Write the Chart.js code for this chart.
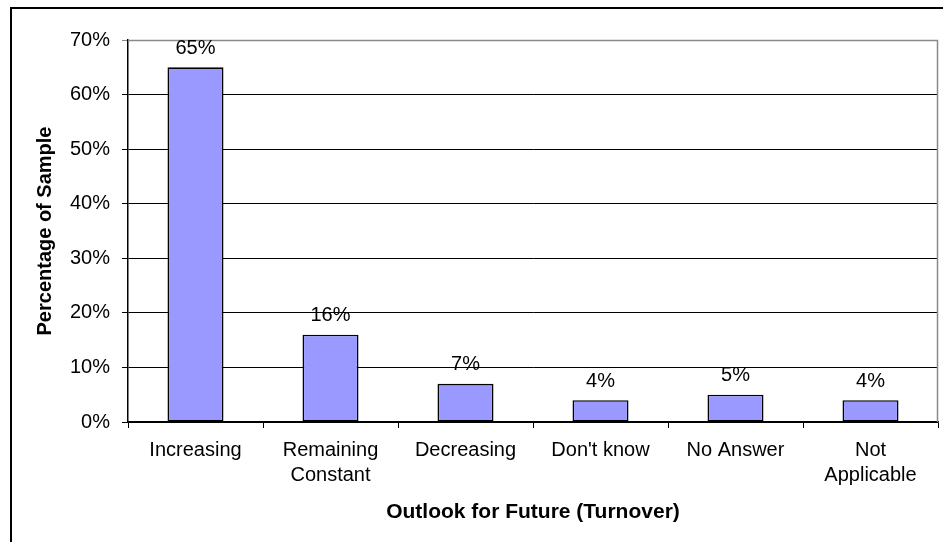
<!DOCTYPE html>
<html>
<head>
<meta charset="utf-8">
<script src="https://cdn.jsdelivr.net/npm/chart.js@4/dist/chart.umd.min.js"></script>
<style>
  html, body { margin: 0; padding: 0; background: #fff; }
  #wrap { position: relative; width: 943px; height: 542px; overflow: hidden; }
  #frame { position: absolute; left: 10px; top: 7px; width: 2000px; height: 2000px;
           border-left: 2px solid #000; border-top: 2px solid #000; }
  canvas { position: absolute; left: 0; top: 0; }
</style>
</head>
<body>
<div id="wrap">
  <div id="frame"></div>
  <canvas id="c" width="943" height="542"></canvas>
</div>
<script>
// Survey outlook for future turnover, share of respondents per answer
const categories = ['Increasing', ['Remaining', 'Constant'], 'Decreasing', "Don't know", 'No Answer', ['Not', 'Applicable']];
const shares = [65, 16, 7, 4, 5, 4];
const yTicks = [0, 10, 20, 30, 40, 50, 60, 70];

const FONT = '"Liberation Sans", Arial, Helvetica, sans-serif';

// Writes each bar's percentage just above it
const barValueLabels = {
  id: 'barValueLabels',
  afterDatasetsDraw(chart) {
    const ctx = chart.ctx;
    const meta = chart.getDatasetMeta(0);
    ctx.save();
    ctx.font = '20px ' + FONT;
    ctx.fillStyle = '#000';
    ctx.textAlign = 'center';
    ctx.textBaseline = 'middle';
    meta.data.forEach((bar, i) => {
      const v = chart.data.datasets[0].data[i];
      ctx.fillText(v + '%', bar.x, bar.y - 19);
    });
    ctx.restore();
  }
};

// Grey outline on the top and right of the plot area
const plotBorder = {
  id: 'plotBorder',
  beforeDatasetsDraw(chart) {
    const { ctx, chartArea: a } = chart;
    ctx.save();
    ctx.strokeStyle = '#8a8a8a';
    ctx.lineWidth = 1.5;
    ctx.beginPath();
    ctx.moveTo(a.left, a.top + 0.5);
    ctx.lineTo(a.right - 0.5, a.top + 0.5);
    ctx.lineTo(a.right - 0.5, a.bottom);
    ctx.stroke();
    ctx.restore();
  }
};

new Chart(document.getElementById('c'), {
  type: 'bar',
  data: {
    labels: categories,
    datasets: [{
      data: shares,
      backgroundColor: '#9999ff',
      borderColor: '#000',
      borderWidth: 1.6,
      borderSkipped: false,
      categoryPercentage: 1,
      barPercentage: 0.415
    }]
  },
  options: {
    responsive: false,
    animation: false,
    events: [],
    layout: { padding: { top: 40, right: 5, bottom: 0, left: 0 } },
    plugins: {
      legend: { display: false },
      tooltip: { enabled: false },
      title: { display: false }
    },
    scales: {
      x: {
        grid: {
          offset: true,
          drawOnChartArea: false,
          drawTicks: true,
          tickLength: 6,
          color: '#000',
          lineWidth: 1
        },
        border: { color: '#000', width: 1.5 },
        ticks: {
          color: '#000',
          font: { family: FONT, size: 20, lineHeight: 1.25 },
          padding: 10,
          maxRotation: 0,
          minRotation: 0,
          autoSkip: false
        },
        title: {
          display: true,
          text: 'Outlook for Future (Turnover)',
          color: '#000',
          font: { family: FONT, size: 21, weight: 'bold' },
          padding: { top: 0, bottom: 17 }
        },
        afterFit(scale) { scale.height = 120; }
      },
      y: {
        min: 0,
        max: 70,
        afterBuildTicks(scale) { scale.ticks = yTicks.map(v => ({ value: v })); },
        grid: {
          color: ctx => (ctx.tick && ctx.tick.value === 70 ? '#8a8a8a' : '#000'),
          lineWidth: 1,
          tickLength: 6
        },
        border: { color: '#000', width: 1.5 },
        ticks: {
          color: '#000',
          font: { family: FONT, size: 20 },
          padding: 12,
          callback: v => v + '%'
        },
        title: {
          display: true,
          text: 'Percentage of Sample',
          color: '#000',
          font: { family: FONT, size: 20, weight: 'bold' },
          padding: { top: 33, bottom: 0 }
        },
        afterFit(scale) { scale.width = 128; }
      }
    }
  },
  plugins: [plotBorder, barValueLabels]
});
</script>
</body>
</html>
